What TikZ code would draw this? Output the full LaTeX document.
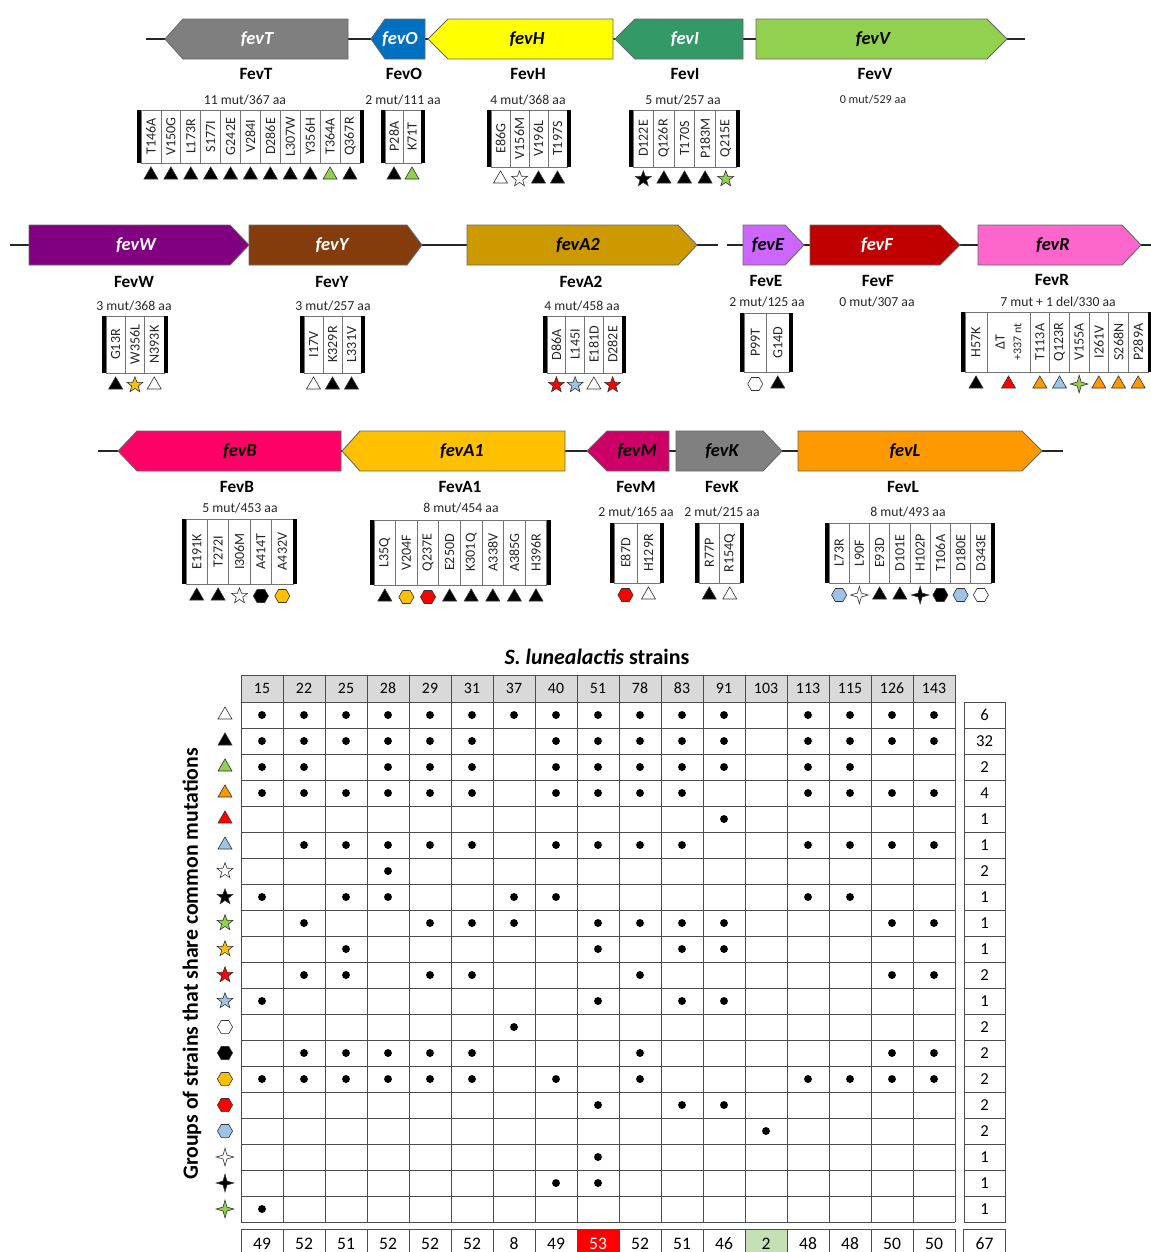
\documentclass[tikz,border=0pt]{standalone}
\usepackage{fontspec}
\setmainfont{Carlito}
\usepackage{tikz}
\usetikzlibrary{shapes.geometric}

\definecolor{mgreen}{HTML}{92D050}
\definecolor{morange}{HTML}{FF9900}
\definecolor{mgold}{HTML}{FFC000}
\definecolor{mred}{HTML}{FF0000}
\definecolor{mblue}{HTML}{9DC3E6}
\definecolor{tgreen}{HTML}{C5E0B4}
\definecolor{hgray}{HTML}{D9D9D9}
\definecolor{cT}{HTML}{7F7F7F}
\definecolor{cO}{HTML}{0070C0}
\definecolor{cH}{HTML}{FFFF00}
\definecolor{cI}{HTML}{339966}
\definecolor{cW}{HTML}{800080}
\definecolor{cY}{HTML}{843C0C}
\definecolor{cA2}{HTML}{CC9900}
\definecolor{cE}{HTML}{CC66FF}
\definecolor{cF}{HTML}{C00000}
\definecolor{cR}{HTML}{FF66CC}
\definecolor{cB}{HTML}{FF0066}
\definecolor{cM}{HTML}{CC0066}
\definecolor{cK}{HTML}{808080}

\tikzset{
  backbone/.style={line width=1pt, black!85},
  gene/.style={draw=black!60, line width=0.5pt},
  genename/.style={font=\fontsize{10.5}{12}\selectfont\bfseries\itshape},
  prot/.style={font=\fontsize{9.8}{12}\selectfont\bfseries},
  muts/.style={font=\fontsize{7.8}{9}\selectfont, text=black!85},
  cell/.style={draw=black!55, line width=0.4pt, rotate=90, inner sep=0pt,
    font=\fontsize{8}{8.5}\selectfont, text=black!85, align=center},
  sym/.style={draw=black!80, line width=0.35pt, inner sep=0pt},
  tri/.style={sym, regular polygon, regular polygon sides=3, minimum size=9.2pt, fill=#1},
  st/.style={sym, star, star points=5, star point ratio=2.4, minimum size=9.4pt, fill=#1},
  hx/.style={sym, regular polygon, regular polygon sides=6, minimum size=8.6pt, fill=#1},
  fp/.style={sym, star, star points=4, star point ratio=3.2, minimum size=10pt, fill=#1},
  triw/.style={tri=white}, trik/.style={tri=black}, trig/.style={tri=mgreen},
  trio/.style={tri=morange}, trir/.style={tri=mred}, trib/.style={tri=mblue},
  stw/.style={st=white}, stk/.style={st=black}, stg/.style={st=mgreen},
  sto/.style={st=mgold}, str/.style={st=mred}, stb/.style={st=mblue},
  hxw/.style={hx=white}, hxk/.style={hx=black}, hxo/.style={hx=mgold},
  hxr/.style={hx=mred}, hxb/.style={hx=mblue},
  fw/.style={fp=white}, fk/.style={fp=black}, fg/.style={fp=mgreen},
  mdot/.style={circle, fill=black, inner sep=0pt, minimum size=4.5pt},
  gridl/.style={black!70, line width=0.5pt},
  hcell/.style={draw=black!70, fill=hgray, line width=0.5pt, minimum width=0.84cm,
    minimum height=0.54cm, inner sep=0pt, font=\fontsize{9}{10}\selectfont},
  ncell/.style={draw=black!70, line width=0.5pt, minimum width=0.82cm,
    minimum height=0.52cm, inner sep=0pt, font=\fontsize{9.5}{10}\selectfont},
  tcell/.style={draw=black!70, line width=0.5pt, minimum width=0.84cm,
    minimum height=0.58cm, inner sep=0pt, font=\fontsize{10}{11}\selectfont},
  ttlfont/.style={font=\fontsize{12.5}{14}\selectfont\bfseries},
  ylab/.style={font=\fontsize{12.4}{14}\selectfont\bfseries, rotate=90}
}

% gene arrows: id, tip/left, ..., y, fill, text colour, name, name x
\newcommand{\geneL}[9]{%
  \draw[gene, fill=#6] (#2,#5) -- (#3,#5-20) -- (#4,#5-20) -- (#4,#5+20) -- (#3,#5+20) -- cycle;
  \node[genename, text=#7] (#1) at (#9,#5) {#8};}
\newcommand{\geneR}[9]{%
  \draw[gene, fill=#6] (#2,#5-20) -- (#3,#5-20) -- (#4,#5) -- (#3,#5+20) -- (#2,#5+20) -- cycle;
  \node[genename, text=#7] (#1) at (#9,#5) {#8};}
\newcommand{\mutbar}[3]{\fill[black] (#1,#2) rectangle (#1+4,#3);}
\newcommand{\mutcells}[6]{%
  \foreach \m/\s [count=\i] in {#6} {
    \node[cell, minimum width={(#4-#3)*0.02cm}, minimum height={#5*0.02cm}]
      (#1-\i) at ({#2+(\i-0.5)*#5},{(#3+#4)/2}) {\m};
    \node[\s] (#1-s\i) at ({#2+(\i-0.5)*#5},#4+12) {};
  }}
\newcommand{\mutbox}[7]{%
  \mutbar{#2}{#3}{#4}
  \mutcells{#1}{#2+4}{#3}{#4}{#5}{#7}
  \mutbar{#2+4+#6*#5}{#3}{#4}}

\begin{document}
\begin{tikzpicture}[x=0.02cm, y=-0.02cm]
  \useasboundingbox (0,0) rectangle (1151,1252);
  \clip (0,0) rectangle (1151,1252);

  % backbones
  \coordinate (r1a) at (146,39);  \coordinate (r1b) at (1025,39);
  \coordinate (r2a) at (10,245);  \coordinate (r2b) at (718,245);
  \coordinate (r2c) at (727,245); \coordinate (r2d) at (1151,245);
  \coordinate (r3a) at (98,451);  \coordinate (r3b) at (1063,451);
  \draw[backbone] (r1a) -- (r1b) (r2a) -- (r2b) (r2c) -- (r2d) (r3a) -- (r3b);

  % row 1
  \geneL{fevT}{165}{183}{348}{39}{cT}{white}{fevT}{257}
  \geneL{fevO}{371}{385}{425}{39}{cO}{white}{fevO}{400}
  \geneL{fevH}{428}{448}{613}{39}{cH}{black}{fevH}{527}
  \geneL{fevI}{615}{635}{743}{39}{cI}{white}{fevI}{685}
  \geneR{fevV}{756}{987}{1007}{39}{mgreen}{black}{fevV}{873}
  \node[prot] (FevT) at (256,74) {FevT};
  \node[prot] (FevO) at (404,74) {FevO};
  \node[prot] (FevH) at (528,74) {FevH};
  \node[prot] (FevI) at (685,74) {FevI};
  \node[prot] (FevV) at (875,74) {FevV};
  \node[muts] (nT) at (245,100) {11 mut/367 aa};
  \node[muts] (nO) at (403,100) {2 mut/111 aa};
  \node[muts] (nH) at (528,100) {4 mut/368 aa};
  \node[muts] (nI) at (683,100) {5 mut/257 aa};
  \node[muts, font=\fontsize{6.9}{8}\selectfont] (nV) at (873,100) {0 mut/529 aa};
  \mutbox{T}{137}{110}{163}{19.9}{11}{T146A/trik,V150G/trik,L173R/trik,S177I/trik,G242E/trik,
    V284I/trik,D286E/trik,L307W/trik,Y356H/trik,T364A/trig,Q367R/trik}
  \mutbox{O}{381}{110}{163}{18}{2}{P28A/trik,K71T/trig}
  \mutbox{H}{487}{110}{167}{19}{4}{E86G/triw,V156M/stw,V196L/trik,T197S/trik}
  \mutbox{I}{629}{110}{167}{20.6}{5}{D122E/stk,Q126R/trik,T170S/trik,P183M/trik,Q215E/stg}

  % row 2
  \geneR{fevW}{29}{230}{249}{245}{cW}{white}{fevW}{136}
  \geneR{fevY}{249}{407}{422}{245}{cY}{white}{fevY}{332}
  \geneR{fevA2}{467}{678}{697}{245}{cA2}{black}{fevA2}{578}
  \geneR{fevE}{743}{785}{804}{245}{cE}{black}{fevE}{768}
  \geneR{fevF}{810}{940}{960}{245}{cF}{white}{fevF}{877}
  \geneR{fevR}{978}{1122}{1141}{245}{cR}{black}{fevR}{1053}
  \node[prot] (FevW) at (134,282) {FevW};
  \node[prot] (FevY) at (332,282) {FevY};
  \node[prot] (FevA2) at (581,282) {FevA2};
  \node[prot] (FevE) at (766,281) {FevE};
  \node[prot] (FevF) at (878,281) {FevF};
  \node[prot] (FevR) at (1052,280) {FevR};
  \node[muts] (nW) at (134,306) {3 mut/368 aa};
  \node[muts] (nY) at (333,306) {3 mut/257 aa};
  \node[muts] (nA2) at (582,306) {4 mut/458 aa};
  \node[muts] (nE) at (767,302) {2 mut/125 aa};
  \node[muts] (nF) at (877,302) {0 mut/307 aa};
  \node[muts] (nR) at (1058,302) {7 mut + 1 del/330 aa};
  \mutbox{W}{102}{316}{373}{19.3}{3}{G13R/trik,W356L/sto,N393K/triw}
  \mutbox{Y}{300}{316}{373}{19}{3}{I17V/triw,K329R/trik,L331V/trik}
  \mutbox{A2}{543}{316}{373}{18.75}{4}{D86A/str,L145I/stb,E181D/triw,D282E/str}
  \mutbox{E}{740}{313}{372}{22.5}{2}{P99T/hxw,G14D/trik}
  \mutbar{961}{312}{372}
  \mutcells{Ra}{965}{312}{372}{22}{H57K/trik}
  \mutcells{Rb}{987}{312}{372}{43}{{ΔT\\[1pt]\fontsize{6.8}{8}\selectfont +337 nt}/trir}
  \mutcells{Rc}{1030}{312}{372}{19.67}{T113A/trio,Q123R/trib,V155A/fg,I261V/trio,S268N/trio,P289A/trio}
  \mutbar{1148}{312}{372}

  % row 3
  \geneL{fevB}{118}{137}{341}{451}{cB}{black}{fevB}{240}
  \geneL{fevA1}{342}{360}{565}{451}{mgold}{black}{fevA1}{462}
  \geneL{fevM}{587}{607}{669}{451}{cM}{black}{fevM}{637}
  \geneR{fevK}{676}{763}{782}{451}{cK}{black}{fevK}{722}
  \geneR{fevL}{798}{1022}{1042}{451}{morange}{black}{fevL}{905}
  \node[prot] (FevB) at (237,487) {FevB};
  \node[prot] (FevA1) at (460,487) {FevA1};
  \node[prot] (FevM) at (636,487) {FevM};
  \node[prot] (FevK) at (722,487) {FevK};
  \node[prot] (FevL) at (903,487) {FevL};
  \node[muts] (nB) at (240,508) {5 mut/453 aa};
  \node[muts] (nA1) at (461,508) {8 mut/454 aa};
  \node[muts] (nM) at (636,512) {2 mut/165 aa};
  \node[muts] (nK) at (722,512) {2 mut/215 aa};
  \node[muts] (nL) at (908,512) {8 mut/493 aa};
  \mutbox{B}{182}{519}{584}{21.4}{5}{E191K/trik,T272I/trik,I306M/stw,A414T/hxk,A432V/hxo}
  \mutbox{A1}{370}{520}{585}{21.6}{8}{L35Q/trik,V204F/hxo,Q237E/hxr,E250D/trik,K301Q/trik,
    A338V/trik,A385G/trik,H396R/trik}
  \mutbox{M}{610}{523}{583}{23}{2}{E87D/hxr,H129R/triw}
  \mutbox{K}{695}{523}{583}{20.5}{2}{R77P/trik,R154Q/triw}
  \mutbox{L}{825}{523}{583}{20.25}{8}{L73R/hxb,L90F/fw,E93D/trik,D101E/trik,H102P/fk,
    T106A/hxk,D180E/hxb,D343E/hxw}

  % strain table
  \node[ttlfont] (ttl) at (597,657) {\textit{S. lunealactis} strains};
  \node[ylab] (yl) at (192,964) {Groups of strains that share common mutations};
  \foreach \n [count=\c] in {15,22,25,28,29,31,37,40,51,78,83,91,103,113,115,126,143}
    \node[hcell] (h\c) at ({241+(\c-0.5)*42},688.5) {\n};
  \foreach \c in {0,...,17} \draw[gridl] ({241+\c*42},702) -- ({241+\c*42},1222);
  \foreach \r in {0,...,20} \draw[gridl] (241,{702+\r*26}) -- (955,{702+\r*26});
  \foreach \r/\s/\cols in {1/triw/{1,2,3,4,5,6,7,8,9,10,11,12,14,15,16,17},
      2/trik/{1,2,3,4,5,6,8,9,10,11,12,14,15,16,17},
      3/trig/{1,2,4,5,6,8,9,10,11,12,14,15},
      4/trio/{1,2,3,4,5,6,8,9,10,11,14,15,16,17},
      5/trir/{12},
      6/trib/{2,3,4,5,6,8,9,10,11,14,15,16,17},
      7/stw/{4},
      8/stk/{1,3,4,7,8,14,15},
      9/stg/{2,5,6,7,9,10,11,12,16,17},
      10/sto/{3,9,11,12},
      11/str/{2,3,5,6,10,16,17},
      12/stb/{1,9,11,12},
      13/hxw/{7},
      14/hxk/{2,3,4,5,6,10,16,17},
      15/hxo/{1,2,3,4,5,6,8,10,14,15,16,17},
      16/hxr/{9,11,12},
      17/hxb/{13},
      18/fw/{9},
      19/fk/{8,9},
      20/fg/{1}} {
    \node[\s] (g\r) at (225,{715+(\r-1)*26}) {};
    \foreach \c in \cols
      \node[mdot] (d\r-\c) at ({241+(\c-0.5)*42},{715+(\r-1)*26}) {};
  }
  \foreach \n [count=\r] in {6,32,2,4,1,1,2,1,1,1,2,1,2,2,2,2,2,1,1,1}
    \node[ncell] (n\r) at (984.5,{715+(\r-1)*26}) {\n};
  \foreach \n/\fc/\tc [count=\c] in {49/white/black,52/white/black,51/white/black,
      52/white/black,52/white/black,52/white/black,8/white/black,49/white/black,
      53/mred/white,52/white/black,51/white/black,46/white/black,2/tgreen/black,
      48/white/black,48/white/black,50/white/black,50/white/black}
    \node[tcell, fill=\fc, text=\tc] (t\c) at ({241+(\c-0.5)*42},1243.5) {\n};
  \node[tcell] (tall) at (984.5,1243.5) {67};
\end{tikzpicture}
\end{document}
